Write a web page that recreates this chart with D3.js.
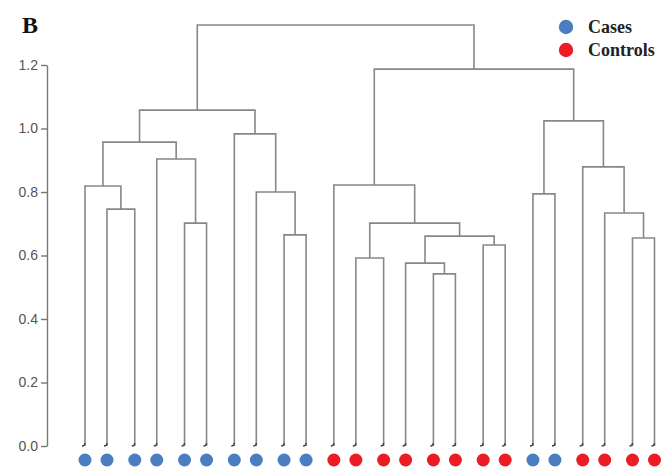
<!DOCTYPE html>
<html><head><meta charset="utf-8">
<script src="https://cdn.jsdelivr.net/npm/d3@7"></script>
<style>body{margin:0;background:#fff}svg{display:block}</style>
</head><body>
<svg id="chart" width="663" height="468"></svg>
<script>
// Leaf groups (left to right): 0 = Cases, 1 = Controls
const leafGroups = [0,0,0,0,0,0,0,0,0,0, 1,1,1,1,1,1,1,1, 0,0, 1,1,1,1];
const groupNames = ["Cases", "Controls"];
const groupColors = ["#4a7ec0", "#ec1c24"];
// Linkage: [left id, right id, height]; new node ids start at 24
const merges = [
  [1, 2, 0.746], [0, 24, 0.819], [4, 5, 0.702], [3, 26, 0.904], [25, 27, 0.957],
  [8, 9, 0.665], [7, 29, 0.800], [6, 30, 0.983], [28, 31, 1.058],
  [11, 12, 0.592], [14, 15, 0.542], [13, 34, 0.576], [16, 17, 0.633], [35, 36, 0.661],
  [33, 37, 0.702], [10, 38, 0.822], [18, 19, 0.794], [22, 23, 0.655], [21, 41, 0.734],
  [20, 42, 0.879], [40, 43, 1.024], [39, 44, 1.187], [32, 45, 1.326]
];
const yTicks = [0, 0.2, 0.4, 0.6, 0.8, 1.0, 1.2];

const svg = d3.select("#chart");
const y = d3.scaleLinear().domain([0, 1.2]).range([446, 65]);
const nLeaves = leafGroups.length;
const pairX = d3.scalePoint().domain(d3.range(nLeaves / 2)).range([96, 643.5]);
const inPair = d3.scalePoint().domain([0, 1]).range([-11, 11]);
const leafX = i => pairX(Math.floor(i / 2)) + inPair(i % 2);

// nodes
const nodes = leafGroups.map((g, i) => ({id: i, x: leafX(i), h: 0, leaf: true}));
merges.forEach(([a, b, h], k) => {
  const A = nodes[a], B = nodes[b];
  nodes.push({id: nLeaves + k, x: (A.x + B.x) / 2, h, left: A, right: B});
});

const lineColor = "#878787";
const g = svg.append("g");
nodes.filter(n => !n.leaf).forEach(n => {
  g.append("path")
    .attr("d", `M${n.left.x},${y(n.left.h)}V${y(n.h)}H${n.right.x}V${y(n.right.h)}`)
    .attr("fill", "none").attr("stroke", lineColor).attr("stroke-width", 1.6);
});
// small hooks at leaf ends
nodes.filter(n => n.leaf).forEach(n => {
  g.append("path")
    .attr("d", `M${n.x},${y(0) - 3}Q${n.x},${y(0)} ${n.x - 3},${y(0)}`)
    .attr("fill", "none").attr("stroke", "#444").attr("stroke-width", 1.4);
});

// leaf dots
svg.append("g").selectAll("circle").data(leafGroups).join("circle")
  .attr("cx", (d, i) => leafX(i)).attr("cy", 460).attr("r", 6.5)
  .attr("fill", d => groupColors[d]);

// y axis
const axis = svg.append("g").attr("transform", "translate(47,0)")
  .call(d3.axisLeft(y).tickValues(yTicks).tickFormat(d3.format(".1f")).tickSize(6).tickSizeOuter(0).tickPadding(3));
axis.select(".domain").attr("stroke", "#777").attr("stroke-width", 1.4);
axis.selectAll(".tick line").attr("stroke", "#777").attr("stroke-width", 1.4);
axis.selectAll("text").attr("font-family", "Liberation Sans, Arial, sans-serif")
  .attr("font-size", 14).attr("fill", "#555");

// panel label
svg.append("text").attr("x", 22).attr("y", 33).text("B")
  .attr("font-family", "Liberation Serif, Times New Roman, serif")
  .attr("font-weight", "bold").attr("font-size", 24).attr("fill", "#111");

// legend
const leg = svg.append("g");
groupNames.forEach((name, i) => {
  leg.append("circle").attr("cx", 566).attr("cy", 27 + i * 23).attr("r", 7.2).attr("fill", groupColors[i]);
  leg.append("text").attr("x", 588).attr("y", 33 + i * 23).text(name)
    .attr("font-family", "Liberation Serif, Times New Roman, serif")
    .attr("font-weight", "bold").attr("font-size", 18).attr("fill", "#222");
});
</script>
</body></html>
